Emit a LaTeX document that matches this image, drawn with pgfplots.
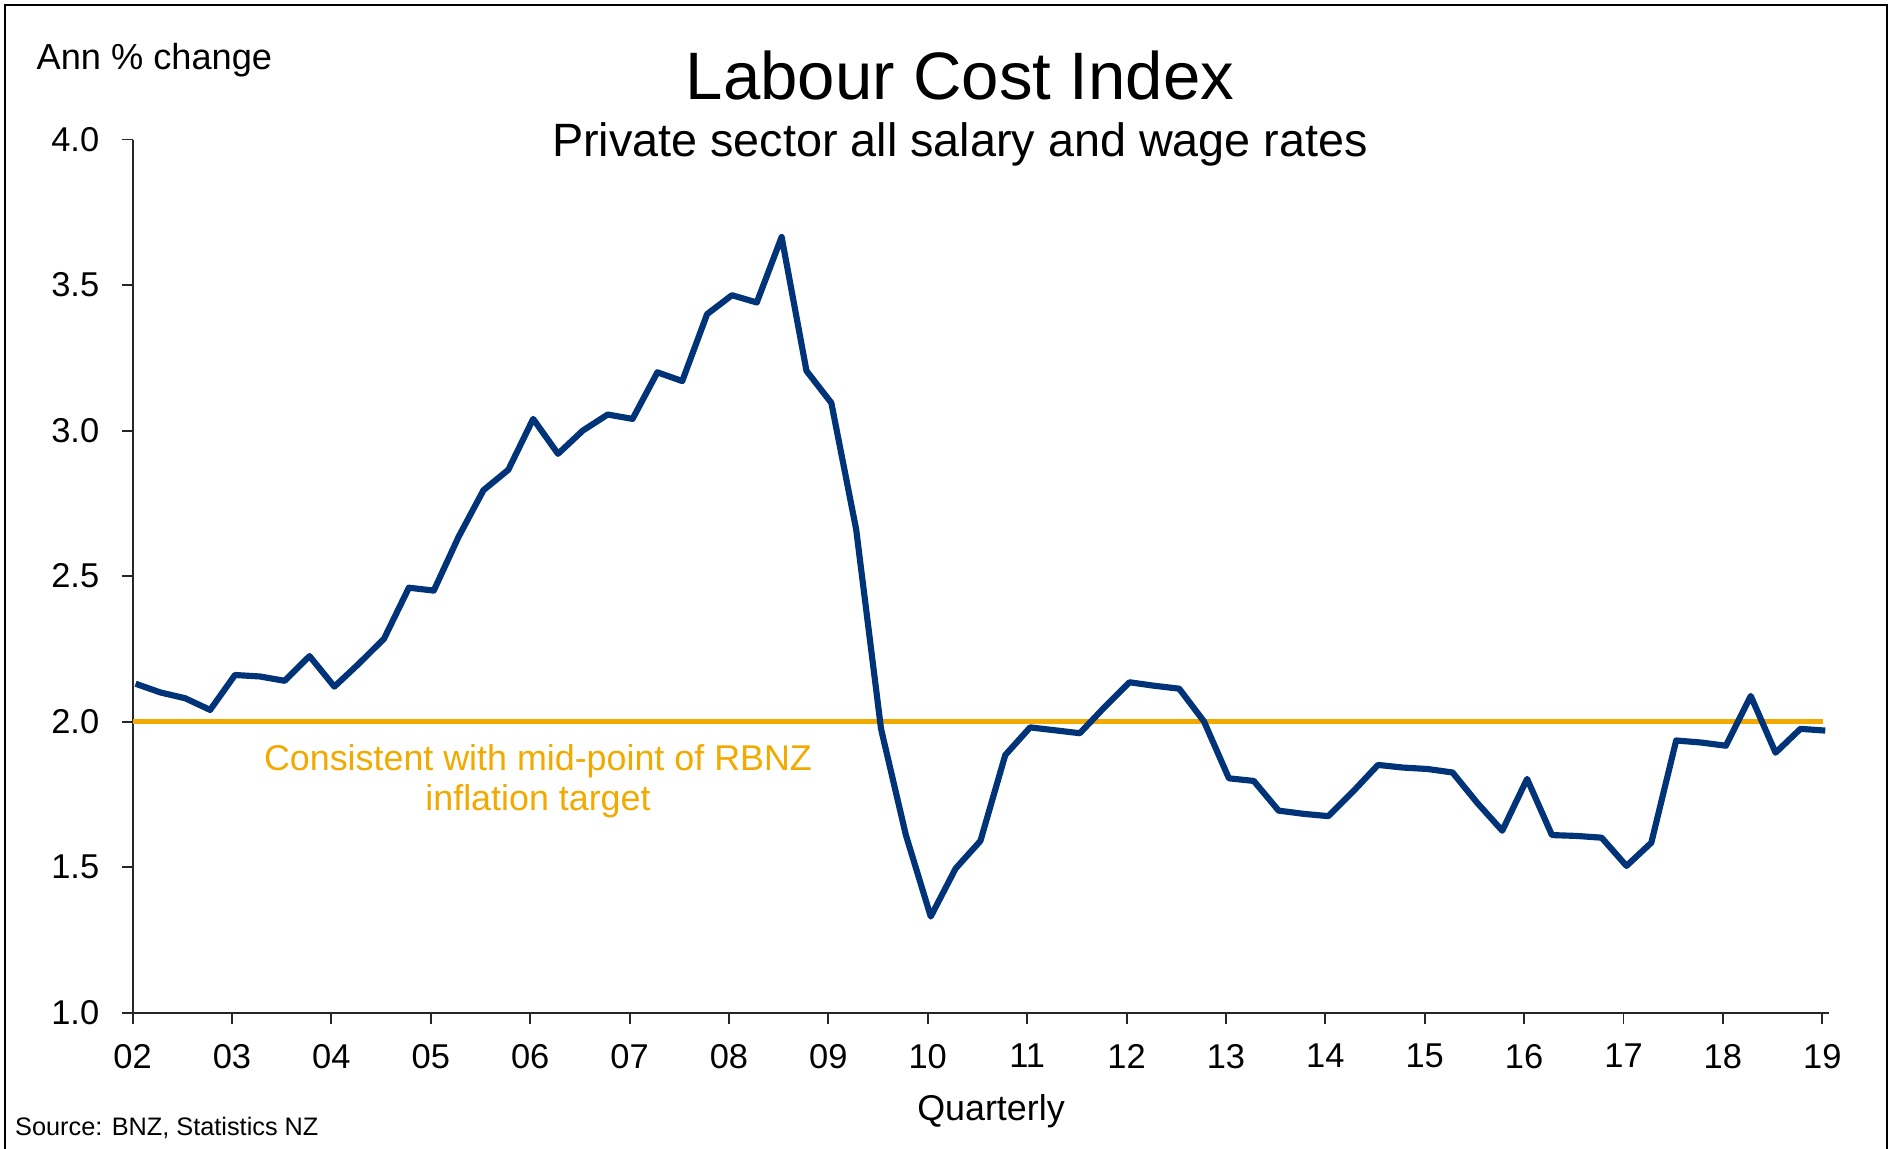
\documentclass[border=0pt]{standalone}
\usepackage{fontspec}
\setmainfont{Liberation Sans}
\usepackage{pgfplots}
\usepackage{pgfplotstable}
\pgfplotsset{compat=1.18}
\definecolor{navy}{RGB}{0,51,119}
\definecolor{gold}{RGB}{242,169,0}

\pgfplotstableread{
q v
0 2.13
1 2.10
2 2.08
3 2.04
4 2.16
5 2.155
6 2.14
7 2.225
8 2.12
9 2.20
10 2.285
11 2.46
12 2.45
13 2.635
14 2.795
15 2.865
16 3.04
17 2.92
18 3.00
19 3.055
20 3.04
21 3.20
22 3.17
23 3.40
24 3.465
25 3.44
26 3.665
27 3.205
28 3.095
29 2.66
30 1.975
31 1.61
32 1.33
33 1.495
34 1.59
35 1.885
36 1.98
37 1.97
38 1.96
39 2.05
40 2.135
41 2.123
42 2.113
43 2.0
44 1.805
45 1.796
46 1.694
47 1.683
48 1.675
49 1.76
50 1.851
51 1.842
52 1.837
53 1.825
54 1.72
55 1.625
56 1.803
57 1.61
58 1.607
59 1.601
60 1.504
61 1.584
62 1.935
63 1.928
64 1.917
65 2.088
66 1.893
67 1.975
68 1.969
}\lci

\begin{document}
\begin{tikzpicture}
\begin{scope}[x=0.1mm,y=0.1mm]
\path[use as bounding box] (0,0) rectangle (1893,1148);
\draw[black, line width=0.25mm] (5,-5) -- (5,1143) -- (1887,1143) -- (1887,-5);
\end{scope}
\begin{axis}[at={(13.26mm,13.54mm)}, anchor=south west,
 width=169.64mm, height=87.31mm, scale only axis,
 xmin=-0.12, xmax=68.15, ymin=1, ymax=4,
 axis lines=left, axis line style={-, black!85, line width=0.55pt},
 xtick={-0.12,3.88,7.88,11.88,15.88,19.88,23.88,27.88,31.88,35.88,39.88,43.88,47.88,51.88,55.88,59.88,63.88,67.88},
 xticklabels={02,03,04,05,06,07,08,09,10,11,12,13,14,15,16,17,18,19},
 ytick={1,1.5,2,2.5,3,3.5,4},
 yticklabel style={xshift=-1mm, /pgf/number format/.cd, fixed, fixed zerofill, precision=1, assume math mode=true},
 xticklabel style={yshift=-0.8mm},
 tick align=outside, major tick length=1.1mm, tick style={black!85, line width=0.55pt},
 ticklabel style={font=\fontsize{9.8}{11}\selectfont},
 clip=false,
]
\addplot[gold, line width=1.6pt] coordinates {(-0.12,2) (67.9,2)};
\addplot[navy, line width=1.75pt, line join=round] table[x=q,y=v]{\lci};
\end{axis}
\begin{scope}[x=0.1mm,y=0.1mm]
\node[anchor=base, inner sep=0pt, font=\fontsize{19.1}{22}\selectfont] at (960,1048) {Labour Cost Index};
\node[anchor=base, inner sep=0pt, font=\fontsize{13.3}{16}\selectfont] at (960,991) {Private sector all salary and wage rates};
\node[anchor=base west, inner sep=0pt, font=\fontsize{10.3}{12}\selectfont] at (36,1078) {Ann \% change};
\node[anchor=base, inner sep=0pt, font=\fontsize{10.2}{12}\selectfont] at (991,28) {Quarterly};
\node[anchor=base west, inner sep=0pt, font=\fontsize{7.2}{8}\selectfont] at (14.5,13) {Source: BNZ, Statistics NZ};
\node[anchor=base, inner sep=0pt, font=\fontsize{10.2}{12}\selectfont, text=gold] at (538,377) {Consistent with mid-point of RBNZ};
\node[anchor=base, inner sep=0pt, font=\fontsize{10.2}{12}\selectfont, text=gold] at (538,338) {inflation target};
\end{scope}
\end{tikzpicture}
\end{document}
